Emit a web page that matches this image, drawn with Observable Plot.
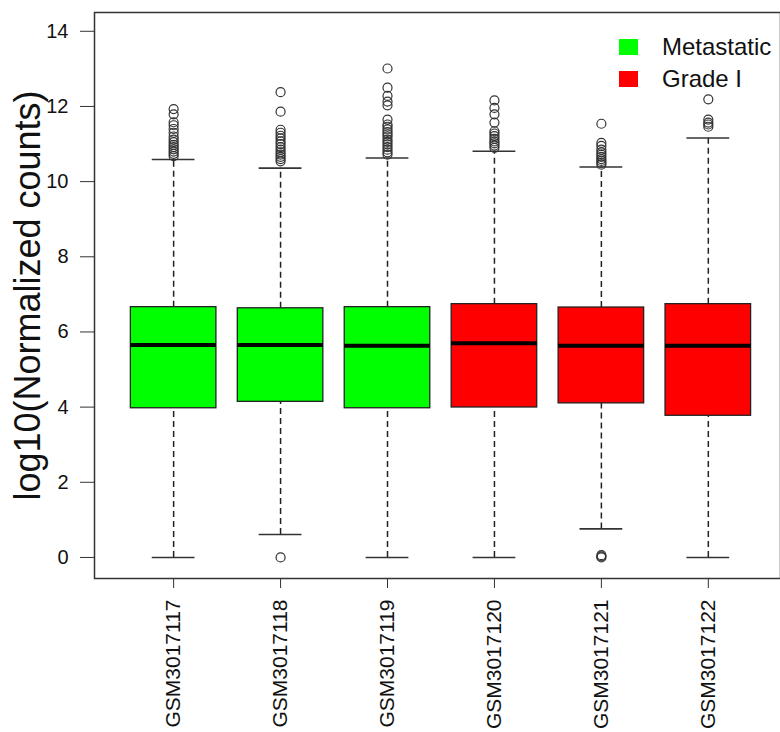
<!DOCTYPE html>
<html><head><meta charset="utf-8">
<script src="https://cdn.jsdelivr.net/npm/d3@7"></script>
<script src="https://cdn.jsdelivr.net/npm/@observablehq/plot@0.6"></script>
<style>
html,body{margin:0;padding:0;background:#fff;overflow:hidden}
#wrap{position:relative;width:780px;height:732px}
.legend{position:absolute;left:619px;top:31px;font-family:"Liberation Sans",Arial,sans-serif;font-size:24px;color:#111}
.legend .row{display:flex;align-items:center;height:32px}
.legend .sw{width:19px;height:16px;margin-right:24px}
</style></head><body>
<div id="wrap"></div>
<script>
const samples = ["GSM3017117","GSM3017118","GSM3017119","GSM3017120","GSM3017121","GSM3017122"];
const groups = ["Metastatic","Metastatic","Metastatic","Grade I","Grade I","Grade I"];
const q1 = [3.97, 4.14, 3.97, 3.99, 4.10, 3.77];
const median = [5.65, 5.65, 5.63, 5.70, 5.63, 5.63];
const q3 = [6.66, 6.63, 6.66, 6.74, 6.65, 6.74];
const whiskerLow = [0, 0.61, 0, 0, 0.76, 0];
const whiskerHigh = [10.59, 10.36, 10.63, 10.81, 10.39, 11.16];
const outliers = [
  [10.68, 10.74, 10.8, 10.86, 10.92, 10.98, 11.05, 11.12, 11.2, 11.3, 11.4, 11.5, 11.58, 11.79, 11.93],
  [0, 10.54, 10.6, 10.66, 10.72, 10.78, 10.85, 10.92, 11.0, 11.07, 11.15, 11.22, 11.3, 11.38, 11.86, 12.38],
  [10.72, 10.78, 10.85, 10.92, 10.99, 11.06, 11.12, 11.2, 11.26, 11.32, 11.39, 11.46, 11.52, 11.65, 12.03, 12.13, 12.28, 12.5, 13.01],
  [10.9, 10.96, 11.02, 11.07, 11.14, 11.21, 11.28, 11.34, 11.57, 11.79, 11.96, 12.16],
  [0, 0.03, 0.06, 10.45, 10.5, 10.55, 10.6, 10.66, 10.72, 10.78, 10.85, 10.95, 11.03, 11.54],
  [11.46, 11.52, 11.57, 11.65, 12.19]
];
const yTicks = [0, 2, 4, 6, 8, 10, 12, 14];
const yLabel = "log10(Normalized counts)";
const legendItems = ["Metastatic", "Grade I"];
const legendColors = ["#00ff00", "#ff0000"];

const boxes = samples.map((s, i) => ({i: i + 1, sample: s, group: groups[i], q1: q1[i], median: median[i], q3: q3[i], lo: whiskerLow[i], hi: whiskerHigh[i]}));
const outPts = outliers.flatMap((arr, i) => arr.map(v => ({i: i + 1, v})));
const BW = 0.4, CW = 0.2;

const chart = Plot.plot({
  width: 780, height: 732,
  marginLeft: 94, marginRight: 0, marginTop: 12, marginBottom: 154,
  style: {fontFamily: '"Liberation Sans", Arial, sans-serif', background: "#fff", color: "#111"},
  x: {domain: [0.26, 6.675]},
  y: {domain: [-0.56, 14.5]},
  color: {domain: legendItems, range: legendColors},
  marks: [
    Plot.ruleX(boxes, {x: "i", y1: "q3", y2: "hi", stroke: "#222", strokeDasharray: "6,4", strokeWidth: 1.5}),
    Plot.ruleX(boxes, {x: "i", y1: "lo", y2: "q1", stroke: "#222", strokeDasharray: "6,4", strokeWidth: 1.5}),
    Plot.ruleY(boxes, {y: "hi", x1: d => d.i - CW, x2: d => d.i + CW, stroke: "#333", strokeWidth: 1.6}),
    Plot.ruleY(boxes, {y: "lo", x1: d => d.i - CW, x2: d => d.i + CW, stroke: "#333", strokeWidth: 1.6}),
    Plot.rect(boxes, {x1: d => d.i - BW, x2: d => d.i + BW, y1: "q1", y2: "q3", fill: "group", stroke: "#222", strokeWidth: 1.3}),
    Plot.ruleY(boxes, {y: "median", x1: d => d.i - BW, x2: d => d.i + BW, stroke: "#000", strokeWidth: 4}),
    Plot.dot(outPts, {x: "i", y: "v", r: 4.5, stroke: "#333", strokeWidth: 1.2, fill: "none"}),
    Plot.axisY({ticks: yTicks, tickSize: 14, tickPadding: 12, fontSize: 20, label: null, stroke: "#333"}),
    Plot.axisX({ticks: boxes.map(d => d.i), tickFormat: i => samples[i - 1], tickRotate: -90, tickSize: 10, tickPadding: 11, fontSize: 21, label: null, stroke: "#333"}),
    Plot.frame({stroke: "#333", strokeWidth: 1.5}),
    Plot.text([yLabel], {frameAnchor: "left", dx: -66, rotate: -90, fontSize: 36, lineAnchor: "middle", textAnchor: "middle", text: d => d, fill: "#111"})
  ]
});
const wrap = document.getElementById("wrap");
wrap.appendChild(chart);
const lg = document.createElement("div");
lg.className = "legend";
legendItems.forEach((name, k) => {
  const row = document.createElement("div");
  row.className = "row";
  const sw = document.createElement("span");
  sw.className = "sw";
  sw.style.background = legendColors[k];
  const t = document.createElement("span");
  t.textContent = name;
  row.appendChild(sw); row.appendChild(t);
  lg.appendChild(row);
});
wrap.appendChild(lg);
</script>
</body></html>
